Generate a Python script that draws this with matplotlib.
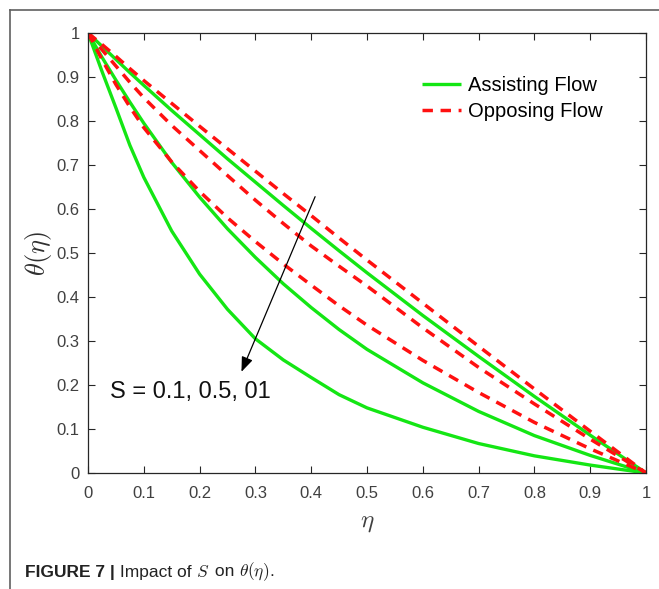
import matplotlib
matplotlib.use("Agg")
import matplotlib.pyplot as plt

# eta grid shared by all curves
eta = [0, 0.025, 0.05, 0.075, 0.1, 0.15, 0.2, 0.25, 0.3, 0.35, 0.4, 0.45,
       0.5, 0.6, 0.7, 0.8, 0.9, 1.0]

# assisting flow, S = 0.1, 0.5, 1 (top to bottom)
assist_s1 = [1, 0.97, 0.94, 0.91, 0.881, 0.824, 0.769, 0.714, 0.661, 0.608,
             0.556, 0.505, 0.455, 0.358, 0.265, 0.174, 0.086, 0]
assist_s2 = [1, 0.945, 0.893, 0.843, 0.795, 0.706, 0.627, 0.555, 0.49, 0.43,
             0.376, 0.326, 0.281, 0.205, 0.14, 0.085, 0.04, 0]
assist_s3 = [1, 0.913, 0.83, 0.745, 0.672, 0.55, 0.452, 0.372, 0.305, 0.257,
             0.217, 0.178, 0.148, 0.104, 0.067, 0.039, 0.018, 0]

# opposing flow
oppose_s1 = [1, 0.974, 0.947, 0.919, 0.892, 0.84, 0.788, 0.737, 0.686, 0.635,
             0.585, 0.534, 0.484, 0.386, 0.288, 0.191, 0.095, 0]
oppose_s2 = [1, 0.962, 0.925, 0.888, 0.853, 0.79, 0.733, 0.676, 0.62, 0.567,
             0.516, 0.47, 0.425, 0.33, 0.24, 0.157, 0.077, 0]
oppose_s3 = [1, 0.94, 0.883, 0.832, 0.785, 0.707, 0.64, 0.58, 0.526, 0.475,
             0.427, 0.38, 0.336, 0.256, 0.183, 0.115, 0.055, 0]

ticks = [0, 0.1, 0.2, 0.3, 0.4, 0.5, 0.6, 0.7, 0.8, 0.9, 1]
tick_labels = ["0", "0.1", "0.2", "0.3", "0.4", "0.5", "0.6", "0.7", "0.8", "0.9", "1"]

plt.rcParams["font.family"] = ["Liberation Sans", "DejaVu Sans"]
plt.rcParams["mathtext.fontset"] = "cm"

W, H = 659, 589
fig = plt.figure(figsize=(W / 100, H / 100), dpi=100)
ax = fig.add_axes([88 / W, (H - 473) / H, 558 / W, 440 / H])

green = "#14e614"
red = "#ff1010"
for i, ys in enumerate([assist_s1, assist_s2, assist_s3]):
    ax.plot(eta, ys, color=green, lw=2.4, solid_capstyle="butt",
            solid_joinstyle="round",
            label="Assisting Flow" if i == 0 else None)
for i, ys in enumerate([oppose_s1, oppose_s2, oppose_s3]):
    ax.plot(eta, ys, color=red, lw=2.5, ls=(0, (3.0, 2.2)),
            label="Opposing Flow" if i == 0 else None)

ax.set_xlim(0, 1)
ax.set_ylim(0, 1)
ax.set_xticks(ticks)
ax.set_xticklabels(tick_labels)
ax.set_yticks(ticks)
ax.set_yticklabels(tick_labels)
ax.tick_params(direction="in", length=5, width=0.8, top=True, right=True,
               labelsize=12, labelcolor="#404040", color="#262626")
ax.tick_params(axis="x", pad=9)
ax.tick_params(axis="y", pad=6)
for sp in ax.spines.values():
    sp.set_color("#262626")
    sp.set_linewidth(0.9)

ax.set_xlabel(r"$\eta$", fontsize=18, color="#404040", labelpad=7)
ax.set_ylabel(r"$\theta(\eta)$", fontsize=19, color="#303030", labelpad=2)

leg = ax.legend(loc="upper left", bbox_to_anchor=(0.585, 0.92), frameon=False,
                fontsize=14.5, handlelength=1.9, handletextpad=0.35,
                labelspacing=0.35, borderaxespad=0)

ax.annotate("", xy=(0.275, 0.23), xytext=(0.407, 0.628),
            arrowprops=dict(arrowstyle="-|>,head_length=0.9,head_width=0.35",
                            color="black", lw=0.9, shrinkA=0, shrinkB=0))
ax.text(0.039, 0.184, "S = 0.1, 0.5, 01", fontsize=17, va="center", ha="left",
        color="#111111")

# outer frame lines (top and left)
fig.add_artist(plt.Line2D([10 / W, 10 / W], [0, 1 - 10 / H], color="#606060", lw=1.2))
fig.add_artist(plt.Line2D([10 / W, 1], [1 - 10 / H, 1 - 10 / H], color="#606060", lw=1.2))

# caption built piece by piece
renderer = fig.canvas.get_renderer()
x = 25 / W
y = 1 - 572 / H
pieces = [("FIGURE 7 |", dict(fontweight="bold")),
          (" Impact of ", {}),
          (r"$S$", {}),
          (" on ", {}),
          (r"$\theta(\eta)$", {}),
          (".", {})]
for txt, kw in pieces:
    t = fig.text(x, y, txt, fontsize=12.5, va="center", ha="left",
                 color="#222222", **kw)
    bb = t.get_window_extent(renderer)
    x += bb.width / W

fig.savefig("out.png", dpi=100)
